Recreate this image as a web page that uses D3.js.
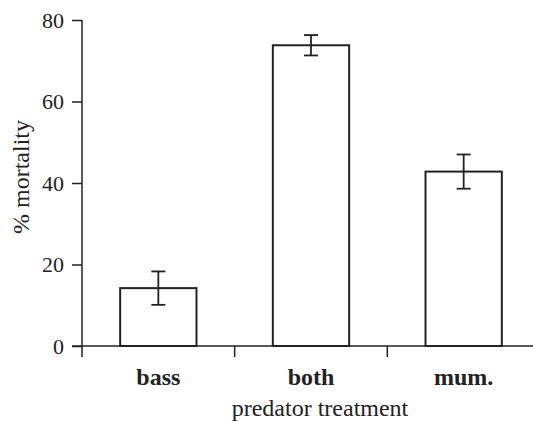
<!DOCTYPE html>
<html>
<head>
<meta charset="utf-8">
<script src="https://cdn.jsdelivr.net/npm/d3@7"></script>
<style>
  body { margin: 0; background: #fff; }
  svg { display: block; }
  text { font-family: "Liberation Serif", "DejaVu Serif", serif; fill: #222; }
</style>
</head>
<body>
<svg id="chart" width="533" height="421"></svg>
<script>
'use strict';

const categories = ["bass", "both", "mum."];
const mortality = [14.2, 73.8, 42.8];
const stdErr = [4.1, 2.5, 4.2];
const yTicks = [0, 20, 40, 60, 80];

function main() {
    const svg = d3.select("#chart");
    const ink = "#222";

    const x = d3.scaleBand().domain(categories).range([82, 540]);
    const y = d3.scaleLinear().domain([0, 80]).range([346, 20]);
    const barW = x.bandwidth() / 2;

    // y axis
    const yAxis = svg.append("g").attr("transform", "translate(82,0)")
        .call(d3.axisLeft(y).tickValues(yTicks).tickSize(10).tickPadding(8));
    yAxis.select(".domain").remove();
    yAxis.selectAll("line").attr("stroke", ink).attr("stroke-width", 1.5);
    yAxis.selectAll("text").attr("font-size", 22).attr("fill", ink);
    svg.append("line").attr("x1", 82).attr("x2", 82).attr("y1", y(80)).attr("y2", 357)
        .attr("stroke", ink).attr("stroke-width", 1.5);

    // x axis
    svg.append("line").attr("x1", 72).attr("x2", 533).attr("y1", y(0)).attr("y2", y(0))
        .attr("stroke", ink).attr("stroke-width", 1.5);
    const bounds = categories.slice(1).map(c => x(c));
    svg.selectAll(".xtick").data(bounds).enter().append("line").attr("class", "xtick")
        .attr("x1", d => d).attr("x2", d => d).attr("y1", y(0)).attr("y2", 357)
        .attr("stroke", ink).attr("stroke-width", 1.5);

    // bars
    const cx = c => x(c) + x.bandwidth() / 2;
    svg.selectAll(".bar").data(categories).enter().append("rect").attr("class", "bar")
        .attr("x", c => cx(c) - barW / 2)
        .attr("y", (c, i) => y(mortality[i]))
        .attr("width", barW)
        .attr("height", (c, i) => y(0) - y(mortality[i]))
        .attr("fill", "#fff").attr("stroke", ink).attr("stroke-width", 2);

    // error bars
    const capW = 7;
    const err = svg.selectAll(".err").data(categories).enter().append("g").attr("class", "err")
        .attr("stroke", ink).attr("stroke-width", 1.8);
    err.append("line").attr("x1", c => cx(c)).attr("x2", c => cx(c))
        .attr("y1", (c, i) => y(mortality[i] + stdErr[i])).attr("y2", (c, i) => y(mortality[i] - stdErr[i]));
    err.append("line").attr("x1", c => cx(c) - capW).attr("x2", c => cx(c) + capW)
        .attr("y1", (c, i) => y(mortality[i] + stdErr[i])).attr("y2", (c, i) => y(mortality[i] + stdErr[i]));
    err.append("line").attr("x1", c => cx(c) - capW).attr("x2", c => cx(c) + capW)
        .attr("y1", (c, i) => y(mortality[i] - stdErr[i])).attr("y2", (c, i) => y(mortality[i] - stdErr[i]));

    // category labels
    svg.selectAll(".cat").data(categories).enter().append("text").attr("class", "cat")
        .attr("x", c => cx(c)).attr("y", 385)
        .attr("text-anchor", "middle").attr("font-size", 24).attr("font-weight", "bold")
        .text(c => c);

    // axis titles
    svg.append("text").attr("x", 320).attr("y", 416).attr("text-anchor", "middle")
        .attr("font-size", 24).text("predator treatment");
    svg.append("text").attr("transform", "translate(29,177) rotate(-90)")
        .attr("text-anchor", "middle").attr("font-size", 24).text("% mortality");
}

main();
</script>
</body>
</html>
